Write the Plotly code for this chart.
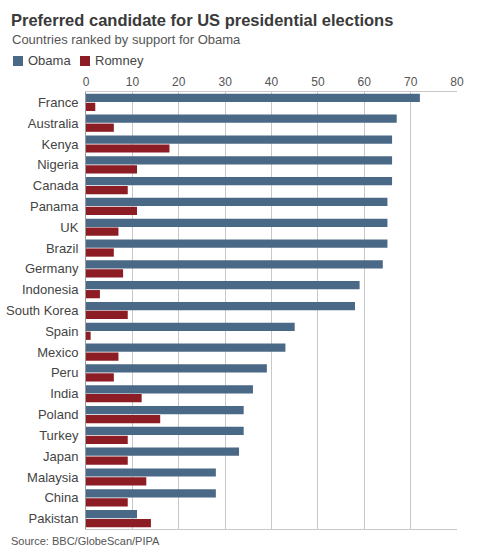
import plotly.graph_objects as go

countries = ["France", "Australia", "Kenya", "Nigeria", "Canada", "Panama", "UK",
             "Brazil", "Germany", "Indonesia", "South Korea", "Spain", "Mexico",
             "Peru", "India", "Poland", "Turkey", "Japan", "Malaysia", "China",
             "Pakistan"]
obama = [72, 67, 66, 66, 66, 65, 65, 65, 64, 59, 58, 45, 43, 39, 36, 34, 34, 33, 28, 28, 11]
romney = [2, 6, 18, 11, 9, 11, 7, 6, 8, 3, 9, 1, 7, 6, 12, 16, 9, 9, 13, 9, 14]
x_ticks = [0, 10, 20, 30, 40, 50, 60, 70, 80]

W, H = 479, 554
ml, mr, mt, mb = 86, 22, 92, 25
pw, ph = W - ml - mr, H - mt - mb


def px(x):
    return (x - ml) / pw


def py(y):
    return (H - mb - y) / ph


font = "Liberation Sans, Arial, sans-serif"
blue = "#4a6987"
red = "#8c1d25"

fig = go.Figure()
fig.add_trace(go.Bar(y=countries, x=obama, name="Obama", orientation="h",
                     marker=dict(color=blue, line=dict(width=0))))
fig.add_trace(go.Bar(y=countries, x=romney, name="Romney", orientation="h",
                     marker=dict(color=red, line=dict(width=0))))

fig.update_layout(
    width=W, height=H,
    margin=dict(l=ml, r=mr, t=mt, b=mb),
    paper_bgcolor="white", plot_bgcolor="white",
    font=dict(family=font, color="#444", size=12),
    barmode="group", bargap=0.14, bargroupgap=0.08,
    showlegend=False,
    xaxis=dict(range=[0, 80], side="top", tickvals=x_ticks, showgrid=True,
               gridcolor="#c8c8c8", gridwidth=1, zeroline=False, showline=True,
               mirror=True, linecolor="#c8c8c8", ticks="", automargin=False,
               tickfont=dict(size=12, color="#555"), fixedrange=True),
    yaxis=dict(autorange="reversed", showline=True, linecolor="#999", automargin=False,
               ticks="", tickfont=dict(size=13, color="#444"), ticklabelstandoff=4),
)

# legend drawn by hand: square swatch + label
for name, color, sx in [("Obama", blue, 13), ("Romney", red, 80)]:
    fig.add_shape(type="rect", xref="paper", yref="paper",
                  x0=px(sx), x1=px(sx + 10), y0=py(66), y1=py(56),
                  fillcolor=color, line=dict(width=0))
    fig.add_annotation(text=name, xref="paper", yref="paper", x=px(sx + 13), y=py(61),
                       xanchor="left", yanchor="middle", showarrow=False,
                       font=dict(size=13, color="#444", family=font))

fig.add_annotation(text="<b>Preferred candidate for US presidential elections</b>",
                   xref="paper", yref="paper", x=px(9), y=py(20), xanchor="left",
                   yanchor="middle", showarrow=False,
                   font=dict(size=16.5, color="#3a3a3a", family=font))
fig.add_annotation(text="Countries ranked by support for Obama",
                   xref="paper", yref="paper", x=px(10), y=py(40), xanchor="left",
                   yanchor="middle", showarrow=False,
                   font=dict(size=13, color="#555", family=font))
fig.add_annotation(text="Source: BBC/GlobeScan/PIPA",
                   xref="paper", yref="paper", x=px(9), y=py(541), xanchor="left",
                   yanchor="middle", showarrow=False,
                   font=dict(size=11, color="#555", family=font))

fig.write_html("out.html", config={"displayModeBar": False},
               post_script="document.body.style.margin='0';")
